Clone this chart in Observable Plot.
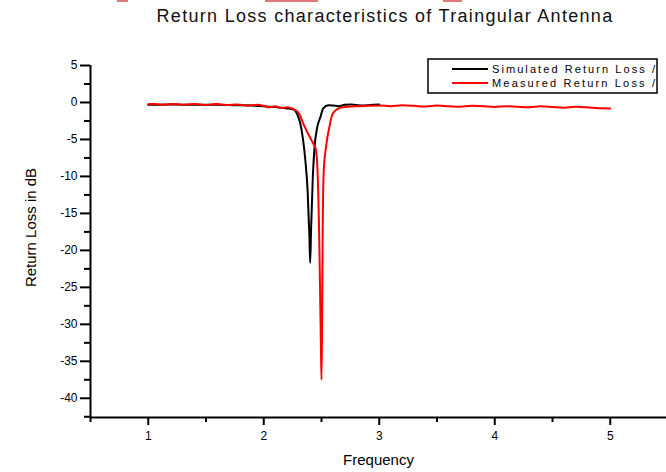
<!DOCTYPE html>
<html>
<head>
<meta charset="utf-8">
<script src="https://cdn.jsdelivr.net/npm/d3@7"></script>
<script src="https://cdn.jsdelivr.net/npm/@observablehq/plot@0.6"></script>
<style>
  html, body { margin: 0; padding: 0; background: #fff; }
  #wrap { position: relative; width: 666px; height: 472px; overflow: hidden; font-family: "Liberation Sans", Arial, sans-serif; }
  #title { height: 36px; position: relative; }
  #title span { position: absolute; left: 0; width: 666px; padding-left: 104px; box-sizing: border-box; text-align: center; top: 6px; font-size: 18px; letter-spacing: 1.3px; color: #111; white-space: nowrap; }
  .art { position: absolute; top: 0; height: 2px; background: #e07a7a; }
  #legend { position: absolute; left: 427px; top: 58px; }
</style>
</head>
<body>
<div id="wrap">
  <div class="art" style="left:117px;width:11px"></div>
  <div class="art" style="left:265px;width:53px"></div>
  <div class="art" style="left:443px;width:19px"></div>
  <div id="title"><span>Return Loss characteristics of Traingular Antenna</span></div>
  <div id="chart"></div>
  <svg id="legend" width="232" height="36"></svg>
</div>
<script>
// ---- data ----
const seriesNames = ["Simulated Return Loss /", "Measured Return Loss /"];
const seriesColors = ["#000000", "#ff0000"];

const simFreq = [1.0,1.1,1.2,1.3,1.4,1.5,1.6,1.7,1.8,1.9,2.0,2.05,2.1,2.15,2.2,2.26,2.29,2.316,2.34,2.36,2.38,2.395,2.402,2.41,2.425,2.44,2.46,2.49,2.515,2.56,2.6,2.65,2.7,2.75,2.8,2.85,2.9,2.95,3.0];
const simLoss = [-0.3,-0.3,-0.28,-0.3,-0.3,-0.32,-0.32,-0.35,-0.38,-0.42,-0.5,-0.58,-0.62,-0.72,-0.8,-0.95,-1.6,-2.8,-5.0,-7.8,-12,-18,-21.7,-17,-10,-6,-3.6,-2.0,-0.8,-0.38,-0.42,-0.5,-0.32,-0.28,-0.35,-0.42,-0.38,-0.3,-0.28];

const measFreq = [1.0,1.05,1.1,1.15,1.2,1.25,1.3,1.35,1.4,1.45,1.5,1.55,1.6,1.65,1.7,1.75,1.8,1.85,1.9,1.95,2.0,2.05,2.1,2.15,2.2,2.25,2.28,2.31,2.34,2.37,2.4,2.43,2.45,2.465,2.48,2.495,2.5,2.505,2.51,2.52,2.535,2.55,2.57,2.59,2.62,2.65,2.7,2.75,2.8,2.9,3.0,3.1,3.2,3.3,3.4,3.5,3.6,3.7,3.8,3.9,4.0,4.1,4.2,4.3,4.4,4.5,4.6,4.7,4.8,4.9,5.0];
const measLoss = [-0.25,-0.22,-0.28,-0.3,-0.22,-0.25,-0.32,-0.27,-0.22,-0.28,-0.33,-0.26,-0.22,-0.3,-0.35,-0.28,-0.3,-0.42,-0.38,-0.3,-0.45,-0.65,-0.5,-0.75,-0.65,-0.85,-1.1,-1.6,-2.8,-3.8,-4.7,-5.6,-6.3,-9,-18,-33,-37.5,-30,-18,-9,-6.5,-4.8,-3.2,-1.8,-1.1,-0.8,-0.6,-0.55,-0.5,-0.45,-0.4,-0.5,-0.38,-0.45,-0.55,-0.42,-0.5,-0.58,-0.45,-0.52,-0.6,-0.5,-0.58,-0.65,-0.52,-0.6,-0.7,-0.58,-0.66,-0.78,-0.8];

const xMajorTicks = [1, 2, 3, 4, 5];
const xMinorTicks = [0.5, 1.5, 2.5, 3.5, 4.5];
const yMajorTicks = [5, 0, -5, -10, -15, -20, -25, -30, -35, -40];
const yMinorTicks = [2.5, -2.5, -7.5, -12.5, -17.5, -22.5, -27.5, -32.5, -37.5, -42.5];

const sim = simFreq.map((f, i) => ({f, v: simLoss[i]}));
const meas = measFreq.map((f, i) => ({f, v: measLoss[i]}));

const xDomain = [0.5, 5.487];
const yDomain = [-42.6, 5];
const font = "'Liberation Sans', Arial, sans-serif";

const chart = Plot.plot({
  width: 666,
  height: 436,
  marginLeft: 90,
  marginRight: 0,
  marginTop: 29,
  marginBottom: 55,
  style: { fontFamily: font, fontSize: "12px", color: "#000", background: "#fff", overflow: "visible" },
  x: { domain: xDomain },
  y: { domain: yDomain },
  marks: [
    Plot.axisX({ ticks: xMinorTicks, tickFormat: () => "", tickSize: 5, strokeWidth: 2, label: null }),
    Plot.axisX({ ticks: xMajorTicks, tickFormat: d => String(d), tickSize: 8, tickPadding: 6, strokeWidth: 2, fontSize: 12,
                 label: "Frequency", labelAnchor: "center", labelArrow: "none", labelOffset: 47 }),
    Plot.axisY({ ticks: yMinorTicks, tickFormat: () => "", tickSize: 6, strokeWidth: 2, label: null }),
    Plot.axisY({ ticks: yMajorTicks, tickFormat: d => String(d), tickSize: 10, tickPadding: 3, strokeWidth: 2, fontSize: 12,
                 label: "Return Loss in dB", labelAnchor: "center", labelArrow: "none", labelOffset: 65 }),
    Plot.ruleX([xDomain[0]], { stroke: "#000", strokeWidth: 2 }),
    Plot.ruleY([yDomain[0]], { stroke: "#000", strokeWidth: 2 }),
    Plot.line(sim, { x: "f", y: "v", stroke: seriesColors[0], strokeWidth: 2, curve: "monotone-x" }),
    Plot.line(meas, { x: "f", y: "v", stroke: seriesColors[1], strokeWidth: 2, curve: "monotone-x" })
  ]
});
chart.querySelectorAll('[aria-label="x-axis label"] text, [aria-label="y-axis label"] text').forEach(t => t.setAttribute("font-size", "15"));
const yl = chart.querySelector('[aria-label="y-axis label"]');
if (yl) yl.setAttribute("transform", "translate(0,-14) " + (yl.getAttribute("transform") || ""));
document.getElementById("chart").appendChild(chart);

// legend
const lg = d3.select("#legend");
lg.append("rect").attr("x", 1).attr("y", 1).attr("width", 229).attr("height", 34).attr("fill", "#fff").attr("stroke", "#000").attr("stroke-width", 1.5);
seriesNames.forEach((name, i) => {
  const y = 11 + i * 14;
  lg.append("line").attr("x1", 25).attr("x2", 61).attr("y1", y).attr("y2", y).attr("stroke", seriesColors[i]).attr("stroke-width", 2);
  lg.append("text").attr("x", 65).attr("y", y + 4).attr("font-size", 11).attr("font-family", font)
    .attr("textLength", 163).attr("lengthAdjust", "spacing").text(name);
});
</script>
</body>
</html>
